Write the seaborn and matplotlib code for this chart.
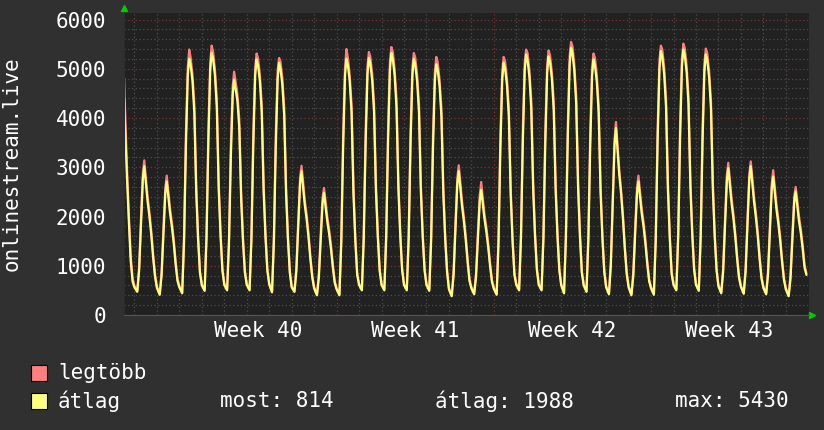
import matplotlib
matplotlib.use("Agg")
import pandas as pd
import matplotlib.pyplot as plt
import seaborn as sns
from matplotlib.patches import Rectangle

# ─────────────────────────────────────────
# DATA
# ─────────────────────────────────────────
first_day = "2014-09-26"                     # partial Friday, starts ~13:00
fri_hours = [13, 14, 16, 18, 20, 22]
fri_avg = [4400, 3800, 2800, 1900, 1100, 680]
fri_max = [4810, 4150, 3000, 2050, 1200, 740]

start_day = "2014-09-27"                     # Sat, then one row per day
day_hours = [0, 3, 5, 7, 9, 10.5, 12, 14, 16, 18, 20, 22]

day_avg = [
    [560, 470, 900, 1820, 2770, 3020, 2710, 2310, 2000, 1620, 1160, 780],    # Sat 27
    [550, 410, 800, 1630, 2480, 2710, 2430, 2070, 1790, 1450, 1030, 690],    # Sun 28
    [560, 440, 1490, 3440, 4870, 5200, 5080, 4750, 4100, 2490, 1530, 850],  # Mon 29
    [600, 490, 1550, 3530, 4980, 5320, 5200, 4860, 4210, 2570, 1600, 900],  # Tue 30
    [610, 500, 1440, 3200, 4480, 4780, 4600, 4350, 3800, 2350, 1480, 860],  # Wed 1
    [610, 500, 1530, 3460, 4860, 5190, 5070, 4750, 4110, 2520, 1580, 900],  # Thu 2
    [620, 460, 1490, 3400, 4790, 5120, 5000, 4680, 4050, 2460, 1530, 860],  # Fri 3
    [560, 470, 890, 1770, 2680, 2920, 2630, 2230, 1940, 1570, 1130, 760],    # Sat 4
    [540, 400, 750, 1500, 2270, 2480, 2230, 1900, 1650, 1340, 960, 650],     # Sun 5
    [520, 400, 1460, 3420, 4860, 5200, 5080, 4740, 4100, 2460, 1500, 810],  # Mon 6
    [610, 500, 1540, 3470, 4890, 5220, 5100, 4770, 4130, 2530, 1590, 900],  # Tue 7
    [610, 500, 1560, 3540, 4980, 5320, 5200, 4860, 4210, 2570, 1610, 910],  # Wed 8
    [610, 500, 1530, 3460, 4870, 5200, 5080, 4750, 4120, 2520, 1580, 900],  # Thu 9
    [610, 490, 1500, 3390, 4770, 5090, 4980, 4650, 4030, 2470, 1550, 880],  # Fri 10
    [520, 380, 810, 1730, 2670, 2920, 2620, 2210, 1900, 1520, 1070, 690],    # Sat 11
    [540, 420, 780, 1540, 2330, 2540, 2290, 1950, 1690, 1370, 990, 670],     # Sun 12
    [530, 410, 1450, 3380, 4790, 5120, 5000, 4670, 4040, 2440, 1490, 810],  # Mon 13
    [610, 500, 1550, 3520, 4960, 5290, 5170, 4840, 4190, 2560, 1600, 910],  # Tue 14
    [610, 500, 1550, 3490, 4920, 5250, 5130, 4800, 4160, 2540, 1590, 900],  # Wed 15
    [600, 440, 1540, 3580, 5080, 5430, 5310, 4960, 4280, 2590, 1590, 860],  # Thu 16
    [600, 470, 1510, 3440, 4860, 5190, 5070, 4740, 4100, 2500, 1560, 870],  # Fri 17
    [560, 420, 1000, 2210, 3460, 3800, 3390, 2850, 2450, 1940, 1330, 830],   # Sat 18
    [560, 400, 790, 1620, 2480, 2710, 2430, 2060, 1790, 1440, 1020, 680],    # Sun 19
    [540, 410, 1500, 3530, 5010, 5360, 5240, 4890, 4220, 2540, 1550, 830],  # Mon 20
    [610, 500, 1580, 3580, 5050, 5390, 5270, 4930, 4270, 2600, 1630, 920],  # Tue 21
    [610, 490, 1550, 3510, 4950, 5290, 5170, 4830, 4190, 2550, 1590, 900],  # Wed 22
    [580, 440, 870, 1790, 2730, 2980, 2680, 2270, 1960, 1580, 1130, 750],    # Thu 23
    [570, 430, 870, 1800, 2760, 3020, 2710, 2300, 1980, 1600, 1130, 740],    # Fri 24
    [550, 420, 830, 1690, 2570, 2810, 2520, 2140, 1850, 1500, 1070, 710],    # Sat 25
    [520, 380, 740, 1510, 2300, 2510, 2250, 1910, 1660, 1340, 960, 814],     # Sun 26
]

day_max = [
    [590, 490, 980, 1970, 2880, 3140, 2830, 2410, 2090, 1700, 1220, 820],
    [580, 430, 880, 1780, 2590, 2830, 2550, 2170, 1880, 1530, 1090, 730],
    [590, 460, 1610, 3690, 5040, 5390, 5230, 4880, 4270, 2640, 1610, 890],
    [630, 510, 1670, 3780, 5150, 5470, 5350, 4990, 4380, 2720, 1680, 940],
    [640, 520, 1560, 3450, 4650, 4940, 4750, 4480, 3970, 2500, 1560, 900],
    [640, 520, 1650, 3710, 5030, 5310, 5220, 4880, 4280, 2670, 1660, 940],
    [650, 480, 1610, 3650, 4960, 5220, 5150, 4810, 4220, 2610, 1610, 900],
    [590, 490, 970, 1920, 2790, 3030, 2750, 2330, 2030, 1650, 1190, 800],
    [570, 420, 830, 1650, 2380, 2580, 2350, 2000, 1740, 1420, 1020, 690],
    [550, 420, 1580, 3670, 5030, 5400, 5230, 4870, 4270, 2610, 1580, 850],
    [640, 520, 1660, 3720, 5060, 5340, 5250, 4900, 4300, 2680, 1670, 940],
    [640, 520, 1680, 3790, 5150, 5440, 5350, 4990, 4380, 2720, 1690, 950],
    [640, 520, 1650, 3710, 5040, 5320, 5230, 4880, 4290, 2670, 1660, 940],
    [640, 510, 1620, 3640, 4940, 5240, 5130, 4780, 4200, 2620, 1630, 920],
    [550, 400, 890, 1880, 2780, 3040, 2740, 2310, 1990, 1600, 1130, 730],
    [570, 440, 860, 1690, 2440, 2700, 2410, 2050, 1780, 1450, 1050, 710],
    [560, 430, 1570, 3630, 4960, 5240, 5150, 4800, 4210, 2590, 1570, 850],
    [640, 520, 1670, 3770, 5130, 5390, 5320, 4970, 4360, 2710, 1680, 950],
    [640, 520, 1670, 3740, 5090, 5370, 5280, 4930, 4330, 2690, 1670, 940],
    [630, 460, 1660, 3830, 5250, 5545, 5460, 5090, 4450, 2740, 1670, 900],
    [630, 490, 1630, 3690, 5030, 5310, 5220, 4870, 4270, 2650, 1640, 910],
    [590, 440, 1080, 2360, 3570, 3920, 3510, 2950, 2540, 2020, 1390, 870],
    [590, 420, 870, 1770, 2590, 2830, 2550, 2160, 1880, 1520, 1080, 720],
    [570, 430, 1620, 3780, 5180, 5470, 5390, 5020, 4390, 2690, 1630, 870],
    [640, 520, 1700, 3830, 5220, 5510, 5420, 5060, 4440, 2750, 1710, 960],
    [640, 510, 1670, 3760, 5120, 5410, 5320, 4960, 4360, 2700, 1670, 940],
    [610, 460, 950, 1940, 2840, 3090, 2800, 2370, 2050, 1660, 1190, 790],
    [600, 450, 950, 1950, 2870, 3120, 2830, 2400, 2070, 1680, 1190, 780],
    [580, 440, 910, 1840, 2680, 2940, 2640, 2240, 1940, 1580, 1130, 750],
    [550, 400, 820, 1660, 2410, 2600, 2370, 2010, 1750, 1420, 1020, 850],
]

week_mid = ["2014-10-02 12:00", "2014-10-09 12:00", "2014-10-16 12:00", "2014-10-23 12:00"]
week_labels = ["Week 40", "Week 41", "Week 42", "Week 43"]
week_starts = ["2014-09-29", "2014-10-06", "2014-10-13", "2014-10-20", "2014-10-27"]
legend_stats = [("most:", 814), ("átlag:", 1988), ("max:", 5430)]

# ─────────────────────────────────────────
# build long table
# ─────────────────────────────────────────
rows = []
t0 = pd.Timestamp(first_day)
for h, a, m in zip(fri_hours, fri_avg, fri_max):
    t = t0 + pd.Timedelta(hours=h)
    rows.append((t, "legtöbb", m))
    rows.append((t, "átlag", a))
t1 = pd.Timestamp(start_day)
for i, (arow, mrow) in enumerate(zip(day_avg, day_max)):
    for h, a, m in zip(day_hours, arow, mrow):
        t = t1 + pd.Timedelta(days=i, hours=h)
        rows.append((t, "legtöbb", m))
        rows.append((t, "átlag", a))
df = pd.DataFrame(rows, columns=["time", "series", "value"])

# ─────────────────────────────────────────
# style
# ─────────────────────────────────────────
BG = "#303030"
PLOT_BG = "#212121"
RED = "#ff7f7f"
YEL = "#ffff80"
MINOR = "#4e4e4e"
MAJOR = "#7a3434"
TXT = "#ffffff"
MONO = "DejaVu Sans Mono"

sns.set_style("dark")
plt.rcParams["font.family"] = [MONO, "DejaVu Sans"]

W, H = 824, 430
fig = plt.figure(figsize=(W / 100, H / 100), dpi=100, facecolor=BG)
ax = fig.add_axes([124 / W, (H - 315) / H, 685 / W, 302 / H])
ax.set_facecolor(PLOT_BG)

x_start = pd.Timestamp("2014-09-26 12:50")
x_end = pd.Timestamp("2014-10-27 00:45")

# grid
for d in pd.date_range("2014-09-27", "2014-10-26", freq="D"):
    if str(d.date()) in week_starts:
        continue
    ax.axvline(d, color=MINOR, lw=0.9, ls=(0, (1, 2)), zorder=0.5)
for w in week_starts[:-1]:
    ax.axvline(pd.Timestamp(w), color=MAJOR, lw=0.9, ls=(0, (1, 2)), zorder=0.6)

sns.lineplot(data=df, x="time", y="value", hue="series",
             hue_order=["legtöbb", "átlag"],
             palette={"legtöbb": RED, "átlag": YEL},
             estimator=None, legend=False, linewidth=1.6, ax=ax)

ax.set_xlim(x_start, x_end)
ax.set_ylim(0, 6132)
ax.set_yticks(range(0, 6001, 1000))
ax.set_yticks(range(0, 6001, 200), minor=True)
ax.yaxis.grid(True, which="minor", color=MINOR, lw=0.9, ls=(0, (1, 2)))
ax.yaxis.grid(True, which="major", color=MAJOR, lw=0.9, ls=(0, (1, 2)))
ax.set_axisbelow(True)

ax.set_xticks(pd.to_datetime(week_mid))
ax.set_xticklabels(week_labels)
ax.set_xticks(pd.date_range("2014-09-27", "2014-10-26", freq="D"), minor=True)
ax.tick_params(axis="x", which="major", length=0, pad=4, labelsize=15, labelcolor=TXT)
ax.tick_params(axis="x", which="minor", length=2.5, color="#666666", width=0.8)
ax.tick_params(axis="y", which="major", length=3, color="#666666", pad=10,
               labelsize=15, labelcolor=TXT)
ax.tick_params(axis="y", which="minor", length=2, color="#555555")
ax.set_xlabel("")
ax.set_ylabel("")

for s in ["top", "right"]:
    ax.spines[s].set_visible(False)
ax.spines["bottom"].set_color("#555555")
ax.spines["left"].set_color("#2c2c2c")

# green rrd arrows
ax.plot([0], [1.016], marker="^", color="#00cc00", markersize=5,
        transform=ax.transAxes, clip_on=False)
ax.plot([1.0045], [0], marker=">", color="#00cc00", markersize=5,
        transform=ax.transAxes, clip_on=False)

fig.text(12 / W, 1 - 164 / H, "onlinestream.live", rotation=90, color=TXT,
         fontsize=15, ha="center", va="center")

# legend
for y_top, color, name in [(365, RED, "legtöbb"), (393, YEL, "átlag")]:
    fig.add_artist(Rectangle((31 / W, 1 - (y_top + 16) / H), 16 / W, 16 / H,
                             transform=fig.transFigure, facecolor=color,
                             edgecolor="black", lw=0.8))
    fig.text(58 / W, 1 - (y_top + 8) / H, name, color=TXT, fontsize=15,
             ha="left", va="center")
for x_left, (lab, val) in zip([220, 435, 675], legend_stats):
    fig.text(x_left / W, 1 - 401 / H, f"{lab} {val}", color=TXT, fontsize=15,
             ha="left", va="center")

fig.savefig("out.png", dpi=100, facecolor=BG)
